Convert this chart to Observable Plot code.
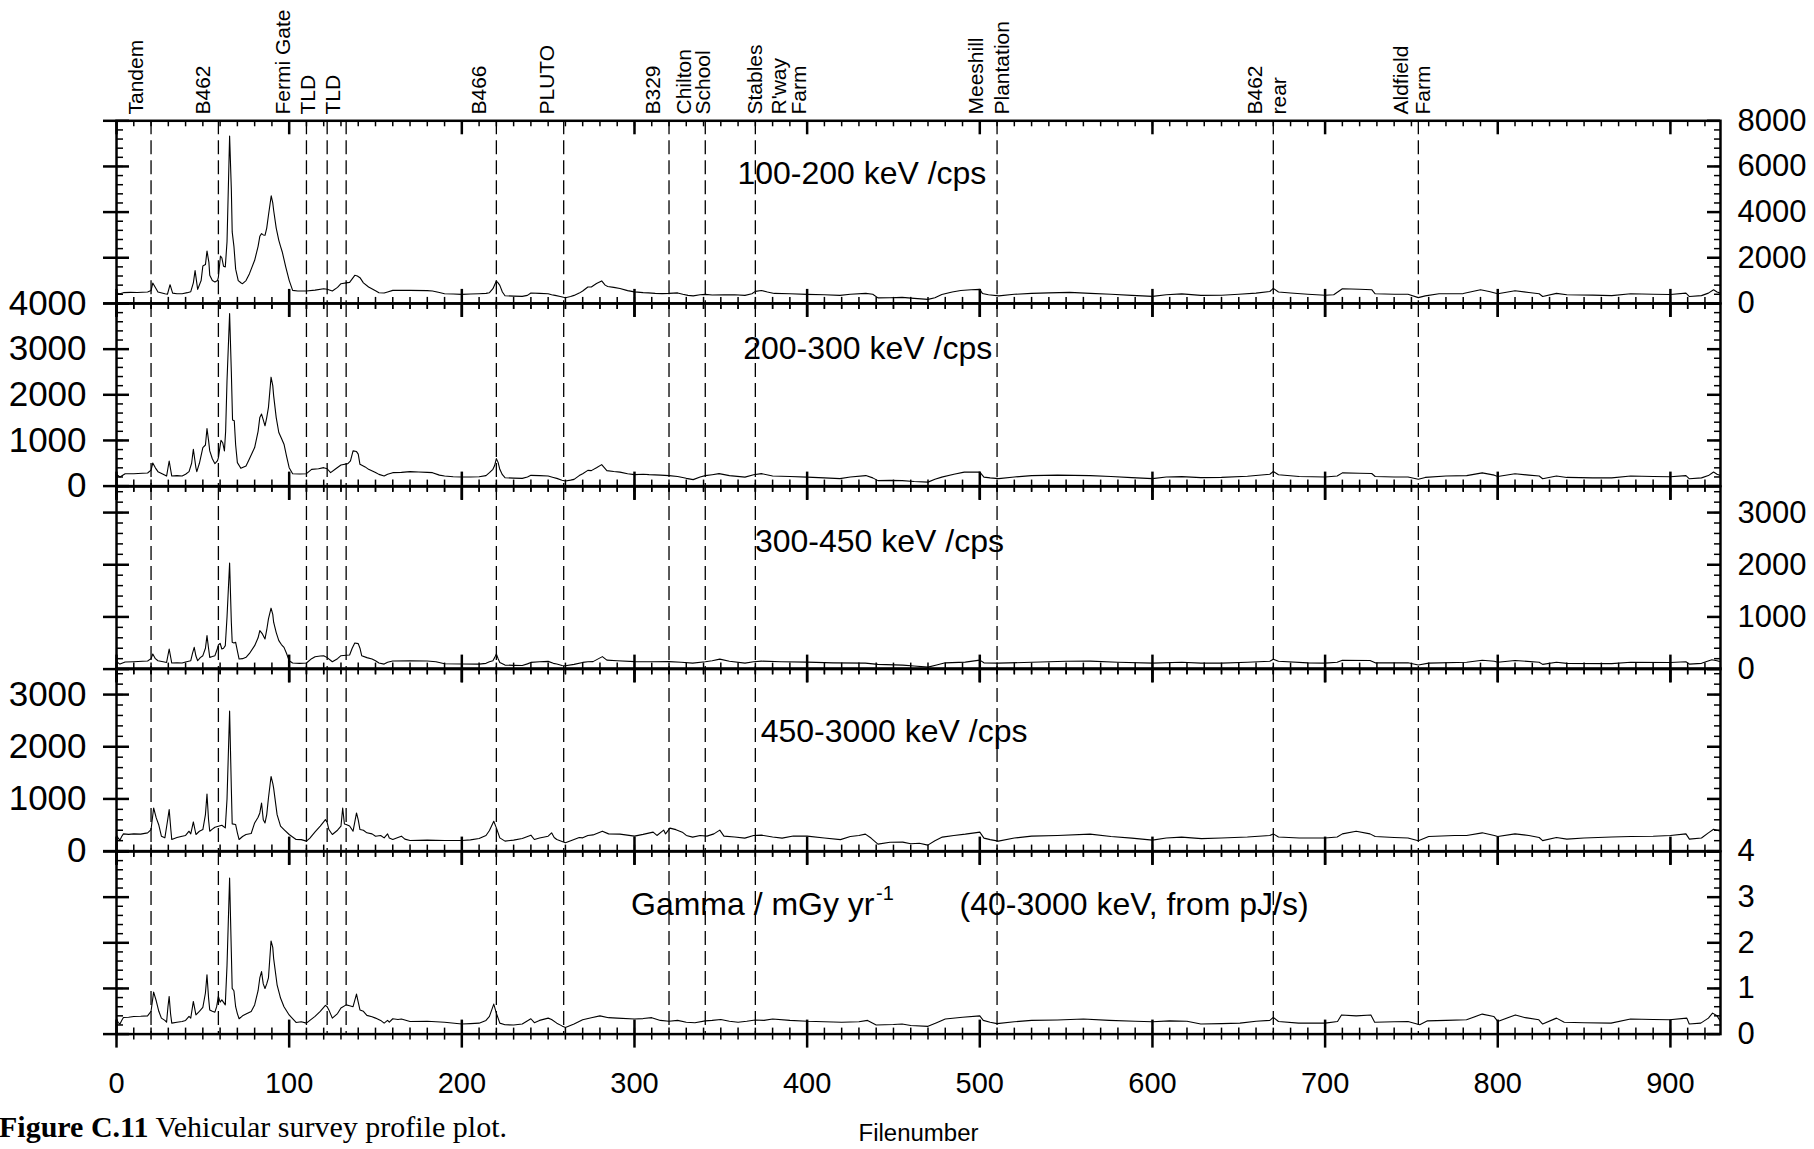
<!DOCTYPE html>
<html><head><meta charset="utf-8">
<script src="https://cdn.jsdelivr.net/npm/d3@7"></script>
<script src="https://cdn.jsdelivr.net/npm/@observablehq/plot@0.6"></script>
<style>
html,body{margin:0;padding:0;background:#fff;}
#chart{position:relative;width:1814px;height:1149px;overflow:hidden;font-family:"Liberation Sans",Arial,sans-serif;}
#chart svg{position:absolute;left:0;}
#caption{position:absolute;left:-1px;top:1110px;font-family:"Liberation Serif","Times New Roman",serif;font-size:30px;line-height:34px;white-space:nowrap;color:#000;}
</style></head>
<body><div id="chart"><div id="caption"><b>Figure C.11</b> Vehicular survey profile plot.</div></div>
<script>
// ---------------- data ----------------
const xTickLabels = [0,100,200,300,400,500,600,700,800,900];
const markerFiles = [20,59,110,122,133,220,259,320,341,370,510,670,754];
const locationNames = ["Tandem","B462","Fermi Gate","TLD","TLD","B466","PLUTO","B329","Chilton","School","Stables","R'way","Farm","Meeshill","Plantation","B462","rear","Aldfield","Farm"];
const locationFiles = [15.2,54.4,100.3,115,129.5,214,253.3,315,333,344,373.8,387.7,399.3,502,517,663.2,677.6,748.2,760.5];

const panelTitles = ["100-200 keV /cps","200-300 keV /cps","300-450 keV /cps","450-3000 keV /cps","Gamma / mGy yr"];
const panelTitleFiles = [359.6,363,369.8,373.1,298];
const panelTitleValues = [5680,3010,2432,2282,2.84];
const yDomains = [[0,8000],[0,4000],[0,3500],[0,3500],[0,4]];
const yLabelTicks = [[0,2000,4000,6000,8000],[0,1000,2000,3000,4000],[0,1000,2000,3000],[0,1000,2000,3000],[0,1,2,3,4]];
const yMajorTicks = [[0,2000,4000,6000,8000],[0,1000,2000,3000,4000],[0,1000,2000,3000],[0,1000,2000,3000],[0,1,2,3,4]];
const yMinorSteps = [400,200,200,200,0.2];
const labelSides = ["right","left","right","left","right"];

const kev100_200 = [[0,453],[2,424],[4,470],[8,483],[12,480],[18,497],[20,560],[21,892],[22.5,700],[24,500],[28,420],[29.5,400],[31,819],[32.5,450],[35,420],[38,424],[41,470],[43,512],[44.5,900],[45.5,1434],[47,614],[49,1000],[50,1638],[51.5,1700],[52.4,2297],[53.5,1800],[54,1229],[55.5,1000],[57,936],[58.5,1000],[59,1156],[60.2,2077],[61,2000],[62,1624],[63,1600],[64,2700],[65.5,7330],[66.5,5000],[67,3131],[68,2500],[69,1500],[70.5,1000],[72.2,892],[73,863],[75,1000],[77,1302],[80,1887],[82,2500],[83,2940],[84,3058],[85,3000],[86,2985],[87,3300],[88,3862],[89.6,4711],[90.5,4400],[91,4082],[92.5,3300],[94,2765],[95,2500],[96,2253],[98,1600],[100,1009],[102,570],[105,540],[110,541],[115,580],[120,644],[122,620],[125,541],[128,700],[130,863],[133,900],[135,922],[138,1229],[139.5,1200],[141,1127],[143,900],[146,717],[150,550],[152,468],[155,453],[157,500],[160,570],[170,570],[180,560],[183,541],[187,480],[190,424],[195,410],[200,395],[205,410],[210,424],[214,440],[216,468],[218,644],[220,980],[221,900],[222,790],[223.5,500],[225,336],[230,320],[235,307],[238,350],[240,453],[245,440],[250,424],[252,380],[254,351],[257,300],[260,248],[263,300],[265,351],[268,450],[270,541],[273,717],[275,721],[278,874],[281,984],[283,800],[284.5,743],[288,700],[291.6,656],[296,560],[300,503],[305,470],[308,459],[312,440],[316,430],[320,437],[325,459],[328,400],[331,350],[334,328],[338,380],[341,393],[345,370],[352,372],[358,380],[364,350],[368,420],[370,525],[373.5,568],[377,500],[381,437],[390,420],[400,393],[410,380],[419,350],[425,400],[434,437],[438,400],[441,240],[448,250],[455,262],[462,220],[470,175],[474,250],[478,393],[484,500],[489,568],[495,600],[500,612],[501.5,437],[505,380],[511,328],[520,400],[530,437],[540,460],[552,481],[564,437],[576,400],[588,350],[600,306],[608,380],[617,415],[628,350],[640,354],[650,400],[660,450],[668,520],[670,658],[673,500],[680,455],[690,400],[700,354],[705,380],[710,640],[720,620],[727,600],[729,420],[740,400],[748,400],[754,253],[758,330],[766,420],[780,430],[790,600],[795,520],[800,420],[810,557],[818,480],[824,420],[826,300],[834,440],[840,380],[855,360],[866,340],[877,420],[890,400],[900,390],[909,450],[911,300],[918,340],[922,450],[925,600],[927,500],[929,450]];

const kev200_300 = [[0,257],[2,198],[5,272],[10,272],[15,280],[18,286],[20,350],[21,506],[22.5,400],[24,316],[27,260],[29,220],[30.5,550],[32,220],[35,230],[38,220],[40,260],[42,316],[43.5,500],[44.5,807],[46,400],[46.5,316],[48,500],[50,844],[51.5,900],[52.4,1262],[53.3,1000],[54,771],[55.5,600],[57,492],[58.5,560],[59,624],[60.5,1005],[61.5,950],[62.5,771],[63.2,1200],[64,2312],[65.5,3780],[66.5,2500],[67.2,1450],[68.2,1431],[69,900],[70,514],[72,389],[75,440],[77,600],[80,844],[82,1200],[83,1505],[84,1578],[85,1450],[86,1321],[87,1500],[88,1725],[89.5,2386],[90.5,2200],[91,1982],[92.5,1500],[94,1174],[95.5,1050],[97,918],[98.5,650],[100,404],[102,272],[106,265],[110,272],[113,367],[117,380],[120,404],[122,380],[124,294],[127,380],[130,462],[134,492],[135.5,550],[137,771],[139,756],[140,700],[141,477],[144,420],[146,367],[150,300],[152,257],[155,220],[157,260],[160,294],[165,300],[170,316],[175,310],[180,300],[183,294],[187,240],[190,220],[195,205],[200,198],[205,200],[210,206],[214,230],[216,294],[218,367],[219,450],[220,602],[221,520],[222,367],[223.5,250],[225,184],[230,175],[235,169],[238,200],[240,235],[245,230],[250,220],[253,190],[255,169],[258,130],[260,110],[263,130],[265,147],[268,230],[270,272],[273,345],[275,339],[278,400],[281,470],[284,339],[288,320],[291.6,306],[296,270],[300,251],[305,260],[308.4,251],[315,240],[320,230],[325,210],[330,170],[334,142],[338,200],[341,230],[345,250],[349,273],[355,230],[364,197],[369,250],[373.5,273],[380,220],[390,210],[400,197],[410,180],[419,164],[425,200],[434,230],[438,180],[441,120],[448,125],[455,120],[462,100],[470,87],[474,150],[478,197],[485,260],[491,306],[500,306],[502.4,197],[506,180],[511,164],[520,200],[530,230],[545,240],[564,230],[576,210],[588,186],[600,164],[608,200],[617,208],[628,186],[640,190],[655,215],[668,260],[670,320],[673,250],[685,210],[700,200],[707,220],[710,290],[720,280],[727,275],[729,210],[740,200],[748,200],[754,150],[758,190],[770,220],[782,230],[791,290],[798,240],[800,210],[810,270],[818,240],[824,220],[826,160],[834,220],[840,190],[855,180],[866,180],[877,220],[890,210],[900,205],[909,230],[911,160],[918,180],[922,230],[925,310],[927,260],[929,230]];

const kev300_450 = [[0,141],[2,96],[5,135],[10,141],[15,150],[18,154],[20,200],[21,289],[22.5,200],[24,160],[27,140],[29,128],[30.5,385],[32,116],[35,120],[38,116],[40,135],[43,160],[44,300],[45,417],[46,250],[47,160],[48.5,220],[50,257],[51.5,400],[52.4,642],[53.3,400],[54,225],[55.5,240],[57,257],[58.5,400],[59,462],[60,495],[61,385],[62,400],[63,449],[64,1000],[65.5,2035],[66.5,900],[67,514],[68,500],[69,514],[70,350],[71,193],[73,200],[75,225],[77,300],[80,449],[82,600],[83,738],[84.5,674],[86,578],[87,750],[88,963],[89.5,1168],[90.5,1050],[91,899],[92.5,700],[94,546],[95.5,470],[97,417],[98.5,300],[100,160],[102,116],[106,110],[110,116],[113,200],[115,238],[118,250],[120,257],[122,220],[125,141],[128,200],[130,257],[133,265],[135,270],[136.5,400],[138,501],[140,488],[141,400],[142,257],[145,220],[148,193],[150,160],[152,116],[155,96],[157,130],[160,154],[170,160],[180,154],[185,140],[190,103],[200,98],[210,96],[214,110],[216,140],[218,160],[219,220],[220,289],[221,200],[222,128],[225,77],[230,72],[235,70],[238,100],[240,128],[245,140],[250,148],[253,110],[255,96],[258,70],[260,64],[265,90],[270,128],[273,140],[276,143],[281.4,239],[284,172],[290,160],[300,143],[310,140],[320,143],[327,130],[333.7,115],[341,140],[345,160],[349.4,191],[355,150],[364,115],[369,140],[373.5,153],[385,140],[400,134],[415,120],[433.7,115],[441,90],[455.4,76],[462,60],[470,38],[475,80],[480,120],[491.6,134],[500,172],[502.4,120],[510.8,115],[530,130],[550,150],[564,153],[580,130],[600,115],[617,130],[628,115],[640,115],[655,130],[668,150],[670,190],[673,150],[690,120],[700,115],[707,130],[710,170],[726,165],[729,120],[748,120],[754,80],[760,115],[782,130],[791,170],[798,150],[800,130],[810,165],[824,130],[826,90],[834,130],[840,110],[866,105],[877,130],[900,125],[909,140],[911,95],[918,110],[924,180],[927,160],[929,140]];

const kev450_3000 = [[0,305],[1,250],[2,210],[3,280],[4,330],[7,320],[10,330],[14,325],[18,350],[20,413],[21.5,826],[23,636],[24.5,500],[26,286],[28,254],[29.5,572],[30.5,795],[31.5,400],[32,222],[35,260],[38,286],[40,300],[42,381],[43,330],[44.5,559],[46,318],[48,380],[50,413],[51.5,700],[52.4,1093],[53.3,600],[54,381],[55.5,420],[57,458],[59,477],[61,496],[63,445],[64,1000],[65.5,2683],[66.5,1200],[67,521],[69,509],[70,350],[71,222],[73,280],[75,318],[78,337],[80,540],[82,650],[83,731],[84,922],[85,600],[86,540],[87,700],[88,1017],[89.5,1430],[90.5,1300],[91,1208],[93,699],[95,477],[97,413],[100,318],[104,222],[107,220],[110,191],[112,250],[115,369],[118,480],[121,604],[122,550],[123,413],[125,318],[128,400],[130,477],[131,826],[132,520],[133,509],[135,480],[137,381],[139,731],[140,600],[141,413],[143,400],[145,350],[148,330],[150,286],[153,300],[155,254],[157,330],[158,250],[160,222],[163,260],[165,286],[167,230],[170,203],[180,210],[190,203],[200,203],[205,215],[210,242],[214,300],[216,394],[218.5,572],[220,445],[222,254],[225,191],[230,210],[235,240],[240,305],[242,222],[245,250],[250,286],[252,350],[253.5,260],[255,222],[260,159],[265,222],[268,260],[270,254],[273,300],[276,310],[281.4,382],[285,330],[291.6,325],[300,287],[305,320],[310.8,363],[313,300],[316.9,402],[318,330],[320.5,440],[324,411],[327.7,363],[330,300],[333.7,268],[338,300],[342,287],[346,330],[349.4,402],[351.8,287],[358,270],[363.9,249],[369,300],[373.5,306],[380,270],[385.5,249],[392,290],[400,287],[410,250],[419.3,220],[425,280],[430,300],[433.7,325],[437,250],[441,134],[448,170],[455.4,172],[460,140],[465,150],[469.9,115],[474,200],[478.3,268],[485,300],[491.6,325],[497,350],[500,363],[502.4,249],[506,220],[510.8,191],[520,250],[530,287],[545,300],[563.9,325],[576,280],[588,249],[600,210],[608,250],[616.9,268],[628.4,239],[640,250],[655,270],[668,300],[670,330],[673,270],[685,250],[700,250],[707,270],[710,330],[718,380],[726,330],[729,280],[740,260],[748,250],[754,200],[760,280],[775,300],[782,300],[791,350],[798,300],[800,280],[810,330],[818,300],[824,260],[826,200],[834,260],[840,230],[850,250],[866,270],[877,280],[890,285],[900,300],[909,330],[911,230],[918,250],[922,350],[925,420],[927,400],[929,380]];

const gammaDose = [[0,0.336],[1,0.25],[2,0.22],[3,0.3],[4,0.365],[7,0.37],[10,0.387],[14,0.39],[18,0.40],[20,0.5],[21.5,0.92],[23,0.73],[24.5,0.5],[26,0.35],[28,0.3],[29,0.26],[29.8,0.6],[30.5,0.825],[31.3,0.45],[32,0.24],[35,0.26],[38,0.277],[40,0.3],[42,0.387],[43,0.35],[44.5,0.715],[46,0.42],[48,0.5],[50,0.584],[51.5,0.9],[52.4,1.30],[53.3,0.8],[54,0.53],[55.5,0.5],[57,0.48],[58,0.6],[59,0.825],[60,0.7],[61,0.75],[63,0.64],[64,1.5],[65.5,3.42],[66.5,1.8],[67,1.0],[68,0.95],[69,0.6],[70,0.45],[71,0.336],[73,0.4],[75,0.438],[78,0.496],[80,0.64],[82,0.95],[83,1.23],[84,1.37],[85,1.1],[86,1.0],[87,1.1],[88,1.23],[89.5,2.04],[90.5,1.9],[91,1.66],[93,1.08],[95,0.79],[97,0.6],[100,0.42],[104,0.255],[107,0.27],[110,0.24],[112,0.3],[115,0.387],[118,0.5],[121,0.628],[122,0.6],[123,0.53],[125,0.35],[128,0.45],[130,0.57],[133,0.64],[135,0.62],[137,0.6],[139,0.876],[140,0.7],[141,0.53],[143,0.5],[145,0.41],[148,0.38],[150,0.35],[153,0.3],[155,0.24],[157,0.3],[158,0.26],[160,0.336],[163,0.32],[165,0.33],[170,0.277],[180,0.28],[190,0.26],[200,0.22],[205,0.23],[210,0.24],[214,0.3],[216,0.387],[218.5,0.657],[220,0.46],[222,0.24],[225,0.204],[230,0.2],[235,0.22],[240,0.336],[242,0.25],[245,0.3],[250,0.35],[252,0.32],[255,0.24],[258,0.18],[260,0.146],[265,0.22],[270,0.314],[275,0.36],[280,0.40],[285,0.36],[290,0.35],[300,0.33],[305,0.34],[310,0.36],[315,0.3],[320,0.28],[325,0.3],[330,0.26],[335,0.25],[341,0.29],[345,0.3],[350,0.32],[355,0.28],[360,0.26],[365,0.28],[370,0.31],[375,0.3],[380,0.33],[390,0.3],[400,0.28],[410,0.27],[420,0.26],[430,0.27],[435,0.3],[440,0.2],[450,0.21],[455,0.22],[460,0.19],[470,0.17],[475,0.25],[480,0.33],[490,0.37],[500,0.4],[502,0.3],[506,0.26],[510,0.23],[520,0.27],[530,0.3],[545,0.31],[560,0.33],[575,0.3],[590,0.28],[600,0.27],[610,0.29],[620,0.28],[628,0.22],[640,0.23],[650.7,0.24],[660,0.28],[668,0.3],[670,0.365],[673,0.277],[684.6,0.24],[700,0.24],[707.2,0.277],[709.5,0.42],[718,0.4],[726.5,0.42],[728.7,0.26],[740,0.27],[748,0.277],[754.8,0.204],[759.3,0.29],[770,0.3],[781.9,0.314],[791,0.438],[797.7,0.387],[800,0.277],[810.2,0.42],[816,0.36],[823.8,0.314],[826,0.22],[834,0.35],[838.5,0.26],[850,0.25],[865.6,0.24],[876.9,0.33],[890,0.32],[899.5,0.314],[909.5,0.35],[910.9,0.22],[917.6,0.24],[922,0.35],[924.4,0.46],[927,0.4],[929,0.277]];

const seriesList = [kev100_200, kev200_300, kev300_450, kev450_3000, gammaDose];

// ---------------- layout ----------------
const W = 1814, ML = 116, MR = 94, FW = W - ML - MR;
const xDomain = [0, 929];
const TOP0 = 120.3, FH = 182.6, M = 30;
const FONT = "Liberation Sans, Arial, sans-serif";
const chart = document.getElementById("chart");
const xMinor = d3.range(0, 930, 10);
const xMajor = d3.range(0, 930, 100);

function place(svg, top) {
  svg.style.top = top + "px";
  chart.appendChild(svg);
}

// location labels above the top panel
const locs = locationNames.map((n, i) => ({name: n, x: locationFiles[i]}));
place(Plot.plot({
  width: W, height: 114, marginLeft: ML, marginRight: MR, marginTop: 0, marginBottom: 0,
  x: {domain: xDomain, axis: null},
  style: {background: "transparent", overflow: "visible", fontFamily: FONT},
  marks: [
    Plot.text(locs, {x: "x", text: "name", frameAnchor: "bottom", rotate: -90, textAnchor: "start", fontSize: 21, fill: "black"})
  ]
}), 0);

for (let i = 0; i < 5; i++) {
  const top = TOP0 + i * FH;
  const mTop = i === 0 ? TOP0 : M;
  const mBot = i === 4 ? 1149 - (TOP0 + 5 * FH) : M;
  const yMinor = d3.range(0, yDomains[i][1] + 1e-9, yMinorSteps[i]);
  const side = labelSides[i];
  const marks = [
    Plot.frame({strokeWidth: 2.5}),
    // x ticks top edge (inward)
    Plot.ruleX(xMinor, {insetBottom: FH - 6, strokeWidth: 1.5}),
    Plot.ruleX(xMajor, {insetBottom: FH - 14, strokeWidth: 2.5}),
    // x ticks bottom edge (crossing)
    Plot.ruleX(xMinor, {insetTop: FH - 6, insetBottom: -6, strokeWidth: 1.5}),
    Plot.ruleX(xMajor, {insetTop: FH - 14, insetBottom: -14, strokeWidth: 2.5}),
    // y ticks left
    Plot.ruleY(yMinor, {insetRight: FW - 7, strokeWidth: 1.5}),
    Plot.ruleY(yMajorTicks[i], {insetLeft: -13, insetRight: FW - 13, strokeWidth: 2.5}),
    // y ticks right
    Plot.ruleY(yMinor, {insetLeft: FW - 6, strokeWidth: 1.5}),
    Plot.ruleY(yMajorTicks[i], {insetLeft: FW - 13, strokeWidth: 2.5}),
    // location markers
    Plot.ruleX(markerFiles, {strokeDasharray: "14,6", strokeWidth: 1.3}),
    // data
    Plot.line(seriesList[i], {stroke: "black", strokeWidth: 1.1}),
    // y labels
    Plot.axisY(yLabelTicks[i], {anchor: side, tickSize: 0, tickPadding: side === "left" ? 30 : 17, fontSize: side === "left" ? 35 : 31, tickFormat: d3.format("d"), label: null}),
    // panel title
    Plot.text([{x: panelTitleFiles[i], y: panelTitleValues[i], t: panelTitles[i]}], {x: "x", y: "y", text: "t", textAnchor: "start", fontSize: 32, fill: "black"})
  ];
  if (i === 4) {
    marks.push(
      Plot.text([{x: panelTitleFiles[i], y: panelTitleValues[i], t: "-1"}], {x: "x", y: "y", text: "t", textAnchor: "start", fontSize: 20, dx: 245, dy: -11, fill: "black"}),
      Plot.text([{x: 488.3, y: panelTitleValues[i], t: "(40-3000 keV, from pJ/s)"}], {x: "x", y: "y", text: "t", textAnchor: "start", fontSize: 32, fill: "black"}),
      Plot.axisX(xTickLabels, {anchor: "bottom", tickSize: 0, tickPadding: 38, fontSize: 29, label: null}),
      Plot.text(["Filenumber"], {text: d => d, frameAnchor: "bottom", dy: 107, fontSize: 24, fill: "black"})
    );
  }
  const svg = Plot.plot({
    width: W, height: mTop + FH + mBot,
    marginLeft: ML, marginRight: MR, marginTop: mTop, marginBottom: mBot,
    x: {domain: xDomain, axis: i === 4 ? undefined : null},
    y: {domain: yDomains[i]},
    style: {background: "transparent", overflow: "visible", fontFamily: FONT, color: "black"},
    marks
  });
  place(svg, top - mTop);
}
</script>
</body></html>
